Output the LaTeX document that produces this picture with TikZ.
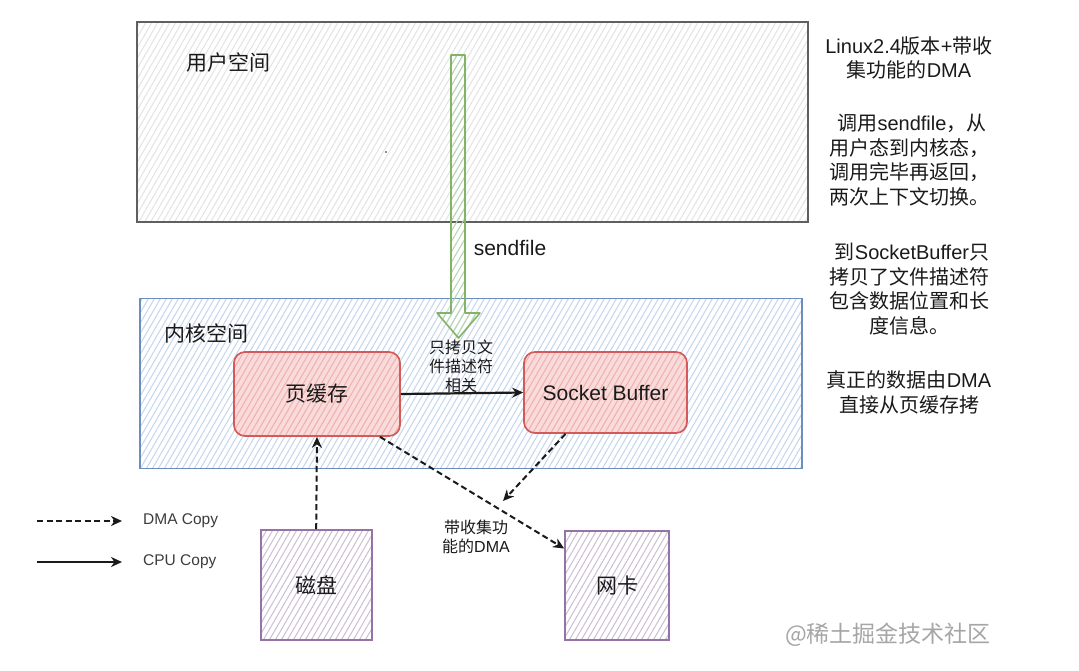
\documentclass[tikz,border=0pt]{standalone}
\usepackage{fontspec}
\setmainfont{Liberation Sans}
\newfontfamily\cjk{Noto Sans CJK SC}
\usetikzlibrary{patterns,arrows.meta,calc}
\pgfdeclarepatternformonly{sketchhatch}{\pgfqpoint{-1pt}{-1pt}}{\pgfqpoint{7pt}{11.4pt}}{\pgfqpoint{6pt}{10.392pt}}{%
  \pgfsetlinewidth{1pt}%
  \pgfpathmoveto{\pgfqpoint{-0.1pt}{-0.173pt}}%
  \pgfpathlineto{\pgfqpoint{6.1pt}{10.565pt}}%
  \pgfusepath{stroke}}
\definecolor{ugray}{HTML}{5F5F5F}
\definecolor{ufill}{HTML}{E4E4E4}
\definecolor{kblue}{HTML}{6C8EBF}
\definecolor{kfill}{HTML}{C5D6EE}
\definecolor{rstroke}{HTML}{D45A5A}
\definecolor{rfill}{HTML}{F0B0AD}
\definecolor{pstroke}{HTML}{9673A6}
\definecolor{pfill}{HTML}{CDBFD6}
\definecolor{gstroke}{HTML}{82B366}
\definecolor{gfill}{HTML}{B5D6AE}
\definecolor{txt}{HTML}{1A1A1A}
\tikzset{
  hatch/.style={pattern=sketchhatch,pattern color=#1},
  userbox/.style={draw=ugray,line width=1.7pt,hatch=ufill,minimum width=671pt,minimum height=200pt,inner sep=0pt},
  kernbox/.style={draw=kblue,line width=1.7pt,hatch=kfill,minimum width=662pt,minimum height=170pt,inner sep=0pt},
  redbox/.style={draw=rstroke,line width=1.7pt,rounded corners=11pt,preaction={fill=rfill!45!white},hatch=rfill,inner sep=0pt,text=txt,font=\fontsize{21}{25}\selectfont},
  purbox/.style={draw=pstroke,line width=1.7pt,preaction={fill=white},hatch=pfill,inner sep=0pt,text=txt,font=\fontsize{21}{25}\selectfont},
  bigtxt/.style={text=txt,font=\fontsize{21}{25}\selectfont,inner sep=0pt},
  sidetxt/.style={text=txt,font=\fontsize{20}{24.5}\selectfont,align=center,inner sep=0pt},
  smalltxt/.style={text=txt,font=\fontsize{16}{19}\selectfont,align=center,inner sep=0pt},
  legtxt/.style={text=txt!85,font=\fontsize{15.5}{18}\selectfont,inner sep=0pt,anchor=west},
  dma/.style={draw=txt,line width=2pt,dash pattern=on 6pt off 3.5pt,-{Stealth[length=11pt,width=10pt,inset=3.5pt]}},
  cpu/.style={draw=txt,line width=2.2pt,-{Stealth[length=11pt,width=10pt,inset=3.5pt]}},
}
\begin{document}
\begin{tikzpicture}[x=1pt,y=-1pt]
\useasboundingbox (0,0) rectangle (1079,670);
\fill[white] (0,0) rectangle (1079,670);

% containers
\node[userbox] (user) at (472.5,122) {};
\node[kernbox] (kern) at (471,383.5) {};
\node[bigtxt,anchor=west] (userlbl) at (186,63) {\cjk 用户空间};
\node[bigtxt,anchor=west] (kernlbl) at (164,333) {\cjk 内核空间};
\fill[txt] (386,152) circle (0.9pt);

% boxes
\node[redbox,minimum width=166pt,minimum height=84pt] (pc) at (317,394) {\cjk 页缓存};
\node[redbox,minimum width=163pt,minimum height=81pt] (sb) at (605.5,392.5) {Socket Buffer};
\node[purbox,minimum width=111pt,minimum height=110pt] (disk) at (316.2,585) {\cjk 磁盘};
\node[purbox,minimum width=104pt,minimum height=109pt] (nic) at (617,585.5) {\cjk 网卡};

% sendfile arrow
\coordinate (sfTop) at (458,55);
\coordinate (sfTip) at (458.5,338);
\path[draw=gstroke,line width=1.6pt,line join=round,hatch=gfill]
  ($(sfTop)+(-7,0)$) -- ($(sfTop)+(7,0)$) -- ($(sfTip)+(6.5,-25)$) -- ($(sfTip)+(21.5,-25)$)
  -- (sfTip) -- ($(sfTip)+(-21.5,-25)$) -- ($(sfTip)+(-7.5,-25)$) -- cycle;
\node[bigtxt] (sflbl) at (510,248) {sendfile};

% connectors
\node[smalltxt] (cpulbl) at (461,366) {\cjk 只拷贝文\\\cjk 件描述符\\\cjk 相关};
\draw[cpu] (pc.east) -- (sb.west);
\draw[dma] (disk.north) -- (pc.south);
\draw[dma] ([xshift=63pt]pc.south) -- ([yshift=37pt]nic.west);
\coordinate (sbEnd) at (503,501);
\draw[dma] ([xshift=-40pt]sb.south) -- (sbEnd);
\node[smalltxt] (dmalbl) at (476,536.5) {\cjk 带收集功\\{\cjk 能的}DMA};

% legend
\coordinate (l1a) at (37,521);
\coordinate (l1b) at (122,521);
\coordinate (l2a) at (37,562);
\coordinate (l2b) at (122,562);
\draw[dma] (l1a) -- (l1b);
\draw[cpu] (l2a) -- (l2b);
\node[legtxt] (leg1) at (143,521) {DMA Copy};
\node[legtxt] (leg2) at (143,562) {CPU Copy};

% side notes
\node[sidetxt] (note1) at (909,57.7) {Linux2.4{\cjk 版本}+{\cjk 带收}\\{\cjk 集功能的}DMA};
\node[sidetxt] (note2) at (909,160.3) {\hspace*{6pt}{\cjk 调用}sendfile{\cjk ，从}\\{\cjk 用户态到内核态，}\\{\cjk 调用完毕再返回，}\\{\cjk 两次上下文切换。}};
\node[sidetxt] (note3) at (909,289) {\hspace*{6pt}{\cjk 到}SocketBuffer{\cjk 只}\\{\cjk 拷贝了文件描述符}\\{\cjk 包含数据位置和长}\\{\cjk 度信息。}};
\node[sidetxt] (note4) at (909,392.3) {{\cjk 真正的数据由}DMA\\{\cjk 直接从页缓存拷}};

% watermark
\node[font=\fontsize{23}{26}\selectfont,text=black!35,inner sep=0pt] (wm) at (888,635) {\cjk @稀土掘金技术社区};
\end{tikzpicture}
\end{document}
